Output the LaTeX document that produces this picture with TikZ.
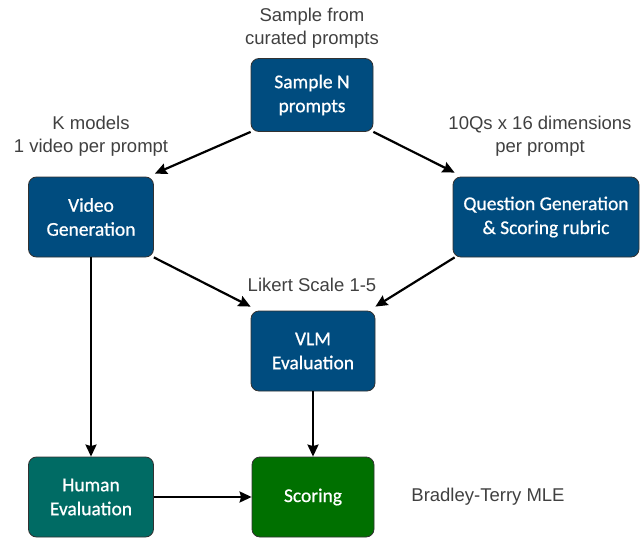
\documentclass[tikz,border=0pt]{standalone}
\usepackage{fontspec}
\setmainfont{Carlito}
\newfontfamily\boxfont[FakeBold=0.7]{Carlito}
\newfontfamily\labelfont{Liberation Sans}
\usetikzlibrary{arrows.meta}
\definecolor{boxblue}{RGB}{0,76,127}
\definecolor{boxteal}{RGB}{0,107,100}
\definecolor{boxgreen}{RGB}{0,112,0}
\definecolor{labelgray}{RGB}{64,64,64}
\definecolor{edgegray}{RGB}{50,50,50}
\tikzset{
  box/.style={draw=edgegray, line width=0.8pt, rounded corners=8pt, text=white,
    align=center, inner sep=0pt, font=\boxfont\fontsize{19.5}{24}\selectfont},
  lbl/.style={text=labelgray, align=center, font=\labelfont\fontsize{18.5}{23}\selectfont},
  arr/.style={-{Stealth[length=12pt,width=11pt,inset=1.5pt]}, line width=2.2pt, black}
}
\begin{document}
\begin{tikzpicture}[x=1pt,y=-1pt]
\useasboundingbox (0,0) rectangle (641,538);
\node[box, fill=boxblue, minimum width=122pt, minimum height=73pt] (sample) at (312,95) {Sample N\\prompts};
\node[box, fill=boxblue, minimum width=125pt, minimum height=80pt] (video) at (91,217) {Video\\Generation};
\node[box, fill=boxblue, minimum width=186pt, minimum height=80pt] (question) at (546,217) {Question Generation\\\& Scoring rubric};
\node[box, fill=boxblue, minimum width=124pt, minimum height=80pt] (vlm) at (313,351) {VLM\\Evaluation};
\node[box, fill=boxteal, minimum width=125pt, minimum height=80pt] (human) at (91,497) {Human\\Evaluation};
\node[box, fill=boxgreen, minimum width=122pt, minimum height=80pt] (scoring) at (313,497) {Scoring};

\node[lbl] (l1) at (312,28.5) {Sample from\\curated prompts};
\node[lbl] (l2) at (91,136) {K models\\1 video per prompt};
\node[lbl] (l3) at (540,136) {10Qs x 16 dimensions\\per prompt};
\node[lbl] (l4) at (312,285) {Likert Scale 1-5};
\node[lbl] (l5) at (488,497) {Bradley-Terry MLE};

\draw[arr] (sample.south west) -- ([xshift=1pt,yshift=3pt]video.north east);
\draw[arr] (sample.south east) -- ([xshift=2pt,yshift=4pt]question.north west);
\draw[arr] (video.south east) -- ([yshift=4pt]vlm.north west);
\draw[arr] ([xshift=2pt]question.south west) -- ([yshift=4pt]vlm.north east);
\draw[arr] (video.south) -- (human.north);
\draw[arr] (vlm.south) -- (scoring.north);
\draw[arr] (human.east) -- (scoring.west);
\end{tikzpicture}
\end{document}
